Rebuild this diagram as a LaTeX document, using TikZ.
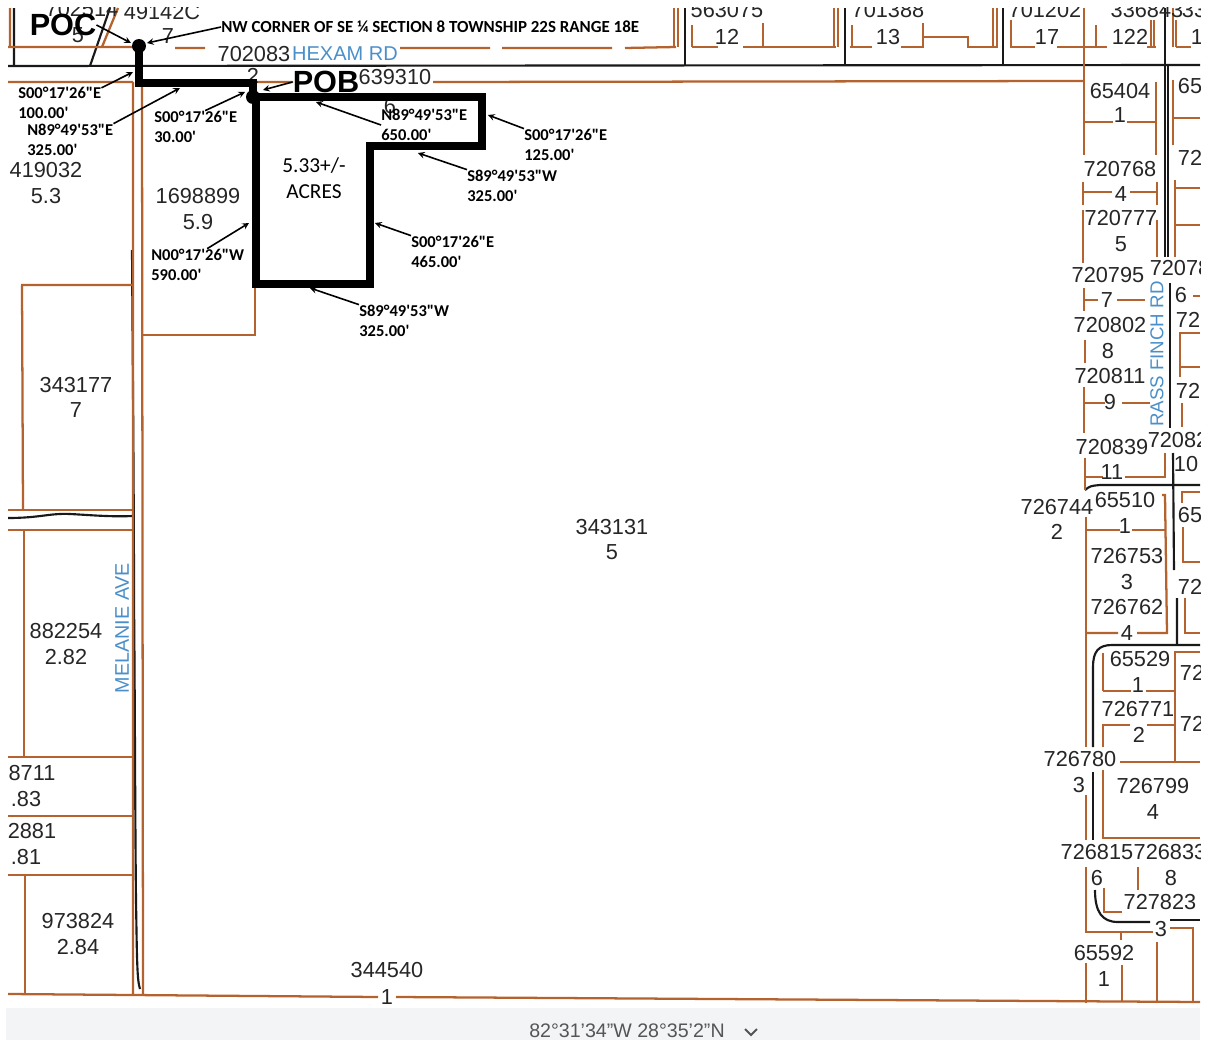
\documentclass[tikz,border=0pt]{standalone}
\usepackage{fontspec}
\setmainfont{Liberation Sans}
\newfontfamily\bearingfont{Carlito}

\definecolor{lotbrown}{HTML}{B4622E}
\definecolor{roadblue}{HTML}{4A8FC9}
\definecolor{gpsgrey}{HTML}{555555}
\definecolor{scanband}{HTML}{F3F4F6}

\tikzset{
    lot/.style={draw=lotbrown, line width=1.7pt},
    road/.style={draw=black!90, line width=1.6pt},
    boundary/.style={draw=black, line width=5.8pt, line join=miter},
    parcel/.style={inner sep=0pt, text=black!85, font=\fontsize{16.3}{16.3}\selectfont},
    roadname/.style={inner sep=0pt, text=roadblue},
    bearing/.style={inner sep=0pt, anchor=west, align=left, font=\bearingfont\bfseries\fontsize{12.4}{15.5}\selectfont},
    marker/.style={inner sep=0pt, font=\bfseries\fontsize{23}{23}\selectfont},
    callout/.style={->, >=stealth, line width=1.2pt}
}

\begin{document}
\begin{tikzpicture}[x=0.75pt,y=-0.75pt]

    \useasboundingbox (0,0) rectangle (1208,1042);
    \fill[white] (0,0) rectangle (1208,1042);

    % Scan band under the map
    \fill[scanband] (6,1008) rectangle (1200,1040);

    \begin{scope}
    \clip (8,7) rectangle (1200,1006);

    % Road lines along the top
    \draw[road] (8,66) -- (1200,65);
    \draw[road] (14,8) -- (14,66) (110,8) -- (90,66);
    \foreach \x in {685,845,1003} {
        \draw[road] (\x,8) -- (\x,65);
    }
    \draw[road] (1165,8) -- (1165,257) (1168,66) -- (1168,257);
    \draw[road] (1170,283) -- (1170,428);
    \draw[road] (1173,453) -- (1174,570) (1177,598) -- (1177,645);
    \draw[road] (1085,490) .. controls (1090,486) .. (1100,485) -- (1200,485);
    \draw[road] (1200,645) -- (1112,645) .. controls (1098,645) and (1093,652) .. (1093,667) -- (1093,747);
    \draw[road] (1093,772) -- (1093,840);
    \draw[road] (1095,890) .. controls (1095,912) and (1102,922) .. (1118,922) -- (1150,922);
    \draw[road] (1170,920) -- (1200,920);

    % Melanie Ave and the side road
    \draw[road] (132,250) .. controls (133,400) and (134,500) .. (134,600) .. controls (135,700) and (135,800) .. (136,900) .. controls (137,960) and (137,980) .. (140,989);
    \draw[road] (8,518) .. controls (40,518) and (50,513) .. (70,514) .. controls (90,515) and (110,517) .. (133,516);

    % Lot lines, top row
    \draw[lot] (8,47) -- (135,47) (175,48) -- (205,48) (400,48) -- (490,48) (502,48) -- (612,48) (625,48) -- (676,47);
    \draw[lot] (692,47) -- (718,47) (743,47) -- (836,47) (850,47) -- (872,47) (901,47) -- (923,47) -- (923,37) -- (968,37) -- (968,47) -- (998,47);
    \draw[lot] (1010,47) -- (1035,47) (1057,47) -- (1107,47) (1147,47) -- (1156,47) (1176,47) -- (1191,47);
    \draw[lot] (10,8) -- (10,47) (118,8) -- (102,47);
    \foreach \x/\y in {674/8,678/8,692/25,763/23,834/8,838/8,852/25,923/23,993/8,997/8,1011/20,1096/25,1151/20,1154/20,1173/8,1176/20} {
        \draw[lot] (\x,\y) -- (\x,47);
    }
    \draw[lot] (8,82) -- (133,82) (143,82) -- (293,82) (433,82) -- (1084,81);
    \draw[lot] (133,82) -- (133,995) (142,82) -- (143,995);
    \draw[lot] (8,994) -- (378,997) (396,997) -- (1200,1002);

    % Lot lines, left column
    \draw[lot] (21,285) -- (133,285) (22,285) -- (23,510);
    \draw[lot] (142,335) -- (255,335) -- (255,284);
    \draw[lot] (8,510) -- (133,510) (8,530) -- (133,530) (24,530) -- (24,757);
    \draw[lot] (8,757) -- (133,757) (8,816) -- (133,816) (8,875) -- (133,875) (25,875) -- (25,995);

    % Lot lines, right column
    \draw[lot] (1084,8) -- (1084,155) (1156,82) -- (1156,155);
    \draw[lot] (1084,122) -- (1113,122) (1127,122) -- (1156,122);
    \draw[lot] (1083,182) -- (1083,205) (1157,182) -- (1157,205);
    \draw[lot] (1083,192) -- (1112,192) (1130,192) -- (1157,192);
    \draw[lot] (1083,210) -- (1083,263) (1157,220) -- (1157,257);
    \draw[lot] (1173,80) -- (1173,145) (1175,180) -- (1175,257);
    \draw[lot] (1173,118) -- (1200,118) (1175,188) -- (1200,188) (1175,225) -- (1200,225);
    \draw[lot] (1084,288) -- (1084,311) (1084,300) -- (1098,300) (1117,300) -- (1145,300);
    \draw[lot] (1085,340) -- (1085,363);
    \draw[lot] (1084,387) -- (1084,433) (1084,403) -- (1105,403) (1122,403) -- (1150,403);
    \draw[lot] (1193,296) -- (1200,296);
    \draw[lot] (1200,333) -- (1180,333) -- (1180,377) (1180,367) -- (1200,367) (1182,403) -- (1182,427);
    \draw[lot] (1085,458) -- (1085,490) (1085,477) -- (1103,477) (1125,477) -- (1165,477) -- (1165,453);
    \draw[lot] (1086,517) -- (1086,747) (1086,530) -- (1120,530) (1132,530) -- (1165,530);
    \draw[lot] (1086,633) -- (1118,633) (1137,633) -- (1167,633) -- (1165,495) -- (1162,495);
    \draw[lot] (1183,527) -- (1183,562) -- (1200,562) (1182,503) -- (1182,492) -- (1200,492);
    \draw[lot] (1185,598) -- (1185,633) -- (1200,633);
    \draw[lot] (1103,653) -- (1103,691) (1103,691) -- (1131,691) (1146,691) -- (1175,691);
    \draw[lot] (1200,652) -- (1175,652) -- (1175,762);
    \draw[lot] (1103,747) -- (1103,725) -- (1130,725) (1147,725) -- (1175,725);
    \draw[lot] (1120,762) -- (1200,762);
    \draw[lot] (1103,770) -- (1103,838) -- (1200,838);
    \draw[lot] (1086,795) -- (1086,840);
    \draw[lot] (1086,867) -- (1086,932) -- (1153,932) (1121,932) -- (1121,940);
    \draw[lot] (1086,963) -- (1086,1003) (1122,965) -- (1122,1001) (1157,942) -- (1157,1001);
    \draw[lot] (1170,928) -- (1193,928) -- (1193,1001);
    \draw[lot] (1104,888) -- (1104,912) -- (1122,912) (1138,867) -- (1138,890);

    % Parcel numbers
    \foreach \px/\py/\txt [count=\i] in {
        82/9/702514, 162/12/49142C, 78/35/5, 168/36/7, 727/10/563075, 888/10/701388,
        1045/10/701202, 1147/10/336843, 1194/10/33, 727/37/12, 888/37/13, 1047/37/17,
        1130/37/122, 1197/37/1, 254/54/702083, 395/77/639310, 253/76/2, 390/106/6,
        46/170/419032, 46/196/5.3, 198/196/1698899, 198/222/5.9, 76/385/343177, 76/410/7,
        66/631/882254, 66/657/2.82, 32/773/8711, 26/799/.83, 32/831/2881, 26/857/.81,
        78/921/973824, 78/947/2.84, 612/527/343131, 612/552/5, 387/970/344540, 387/997/1,
        1120/91/65404, 1120/115/1, 1190/86/65, 1190/158/72, 1120/169/720768, 1121/194/4,
        1121/218/720777, 1121/244/5, 1108/275/720795, 1180/268/72078, 1107/300/7, 1181/295/6,
        1110/325/720802, 1188/320/72, 1108/351/8, 1110/376/720811, 1188/391/72, 1110/402/9,
        1112/447/720839, 1178/440/72082, 1112/472/11, 1186/464/10, 1057/507/726744, 1057/532/2,
        1125/500/65510, 1190/515/65, 1125/526/1, 1127/556/726753, 1127/582/3, 1190/587/72,
        1127/607/726762, 1127/633/4, 1140/659/65529, 1138/685/1, 1192/673/72, 1138/709/726771,
        1139/735/2, 1192/724/72, 1080/759/726780, 1079/785/3, 1153/786/726799, 1153/812/4,
        1097/852/726815, 1170/852/726833, 1097/878/6, 1171/878/8, 1160/902/727823, 1161/929/3,
        1104/953/65592, 1104/979/1} {
        \node[parcel] (P\i) at (\px,\py) {\txt};
    }

    % Street names
    \node[roadname, fill=white, font=\fontsize{15}{15}\selectfont] (hexam) at (345,54) {HEXAM RD};
    \node[roadname, fill=white, rotate=90, font=\fontsize{14.8}{14.8}\selectfont] (melanie) at (122,628) {MELANIE AVE};
    \node[roadname, fill=white, rotate=90, font=\fontsize{14}{14}\selectfont] (grassfinch) at (1157,354) {RASS FINCH RD};

    % Outline of the tract, tied to the commencement point
    \coordinate (poc) at (139,46);
    \coordinate (pob) at (253,97);
    \draw[boundary] (poc) -- (139,83) -- (253,83) -- (pob);
    \draw[boundary] (256,97) -- (482,97) -- (482,146) -- (370,146) -- (370,284) -- (256,284) -- cycle;
    \fill (poc) circle (7);
    \fill (pob) circle (7);

    % Markers and notes
    \node[marker] (poclabel) at (63,25) {POC};
    \node[marker] (poblabel) at (326,82) {POB};
    \node[inner sep=0pt, anchor=west, font=\bearingfont\bfseries\fontsize{12.7}{13}\selectfont] (corner) at (221,27) {NW CORNER OF SE ¼ SECTION 8 TOWNSHIP 22S RANGE 18E};
    \node[inner sep=0pt, align=center, font=\bearingfont\fontsize{16}{19}\selectfont] (acres) at (314,178) {5.33+/-\\ACRES};

    % Bearing and distance of each call
    \node[bearing] (callA) at (18,103) {S00°17'26"E\\100.00'};
    \node[bearing] (callB) at (27,140) {N89°49'53"E\\325.00'};
    \node[bearing] (callC) at (154,127) {S00°17'26"E\\30.00'};
    \node[bearing] (callD) at (381,125) {N89°49'53"E\\650.00'};
    \node[bearing] (callE) at (524,145) {S00°17'26"E\\125.00'};
    \node[bearing] (callF) at (467,186) {S89°49'53"W\\325.00'};
    \node[bearing] (callG) at (411,252) {S00°17'26"E\\465.00'};
    \node[bearing] (callH) at (151,265) {N00°17'26"W\\590.00'};
    \node[bearing] (callI) at (359,321) {S89°49'53"W\\325.00'};

    % Tips of the callouts
    \coordinate (tipPoc) at (131,43);
    \coordinate (tipCorner) at (147,43);
    \coordinate (tipPob) at (263,90);
    \coordinate (tipA) at (133,72);
    \coordinate (tipB) at (180,88);
    \coordinate (tipC) at (245,92);
    \coordinate (tipD) at (316,102);
    \coordinate (tipE) at (488,115);
    \coordinate (tipF) at (418,153);
    \coordinate (tipG) at (375,223);
    \coordinate (tipH) at (249,223);
    \coordinate (tipI) at (310,288);

    \draw[callout] (poclabel.east) -- (tipPoc);
    \draw[callout] (corner.west) -- (tipCorner);
    \draw[callout] (poblabel.west) -- (tipPob);
    \draw[callout] (callA.20) -- (tipA);
    \draw[callout] (callB.north east) -- (tipB);
    \draw[callout] (callC.60) -- (tipC);
    \draw[callout] (callD.west) -- (tipD);
    \draw[callout] (callE.north west) -- (tipE);
    \draw[callout] (callF.north west) -- (tipF);
    \draw[callout] (callG.north west) -- (tipG);
    \draw[callout] (callH.60) -- (tipH);
    \draw[callout] (callI.north west) -- (tipI);
    \end{scope}

    % Position read-out below the map
    \node[inner sep=0pt, text=gpsgrey, font=\fontsize{14.7}{14.7}\selectfont] (gps) at (627,1031) {82°31'34"W 28°35'2"N};
    \coordinate (chevron) at (751,1032);
    \draw[gpsgrey, line width=1.5pt] ([shift={(-6,-3)}]chevron) -- ([shift={(0,3)}]chevron) -- ([shift={(6,-3)}]chevron);

\end{tikzpicture}
\end{document}
